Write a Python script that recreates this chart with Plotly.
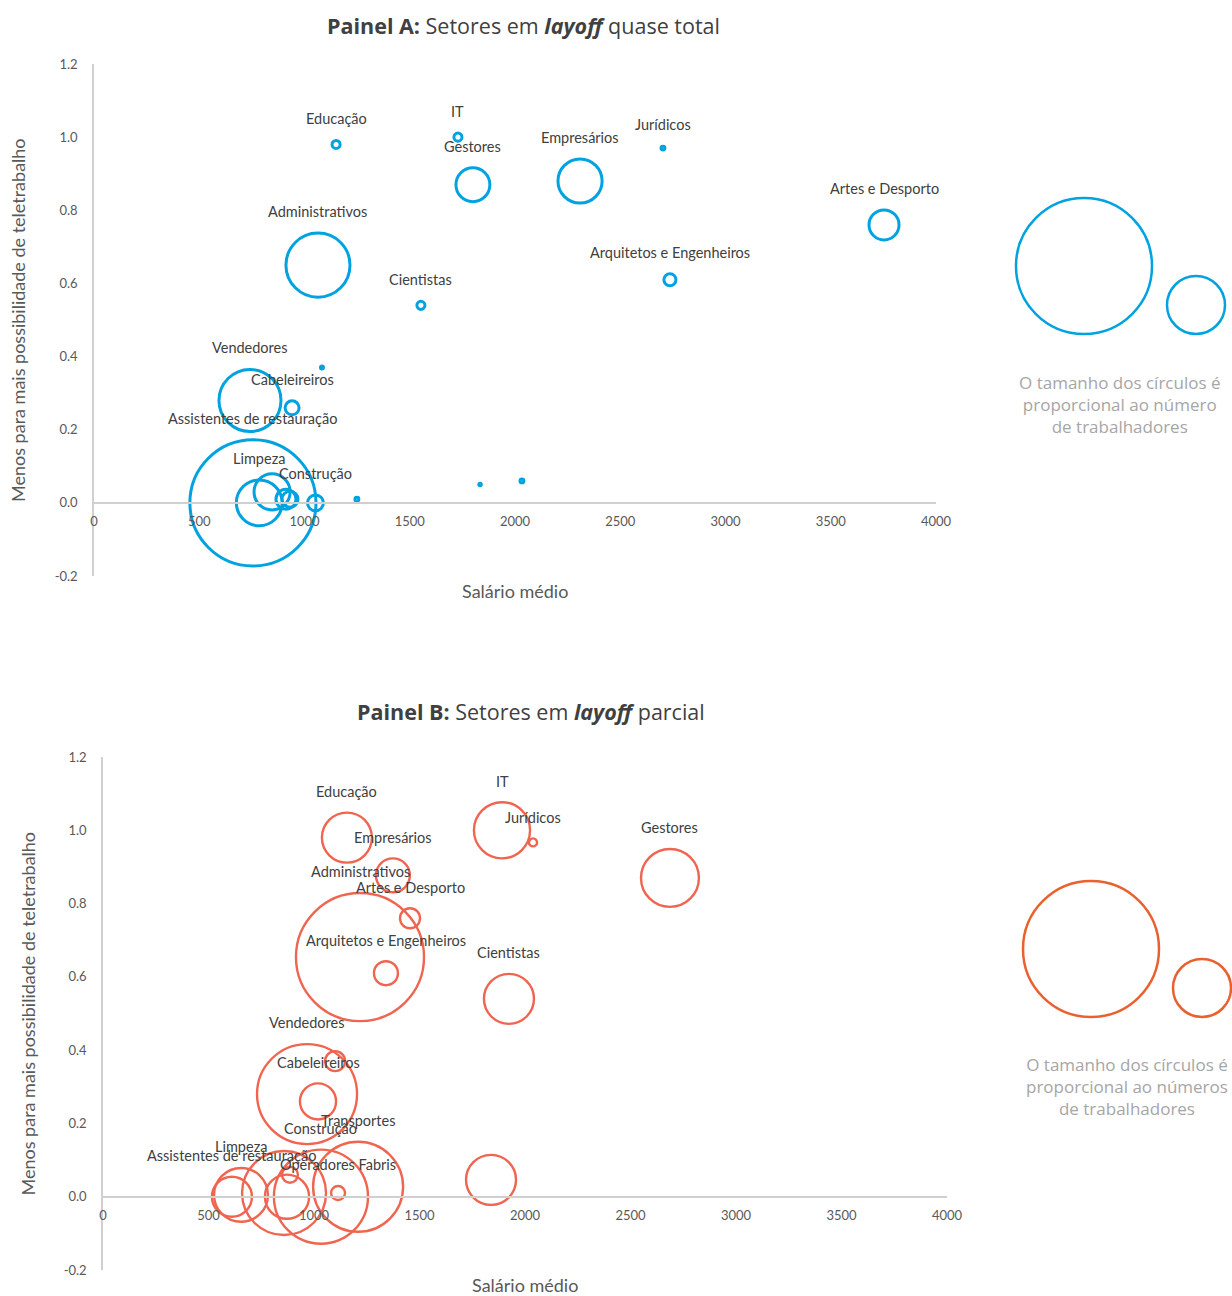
import math
import plotly.graph_objects as go

W, H = 1232, 1296

# ---------------- Data ----------------
# Panel A: sectors in almost total layoff
a_sectors = ["Educação", "IT", "Gestores", "Empresários", "Jurídicos", "Artes e Desporto",
             "Administrativos", "Cientistas", "Arquitetos e Engenheiros", "Vendedores",
             "Cabeleireiros", "Assistentes de restauração", "Limpeza", "Construção",
             "", "", "", "", "", "", ""]
a_salary = [1150, 1729, 1800, 2309, 2703, 3753, 1064, 1553, 2736, 741, 941, 755, 785, 1052,
            846, 912, 931, 1249, 2033, 1834, 1083]
a_telework = [0.98, 1.00, 0.87, 0.88, 0.97, 0.76, 0.65, 0.54, 0.61, 0.28, 0.26, 0.00, 0.00, 0.00,
              0.03, 0.01, 0.01, 0.01, 0.06, 0.05, 0.37]
a_workers = [1.3, 1.3, 23, 39, 0.3, 18, 82, 1.3, 2.9, 77, 3.9, 318, 42, 5.1,
             26, 8, 5.1, 0.3, 0.3, 0.12, 0.18]

# Panel B: sectors in partial layoff
b_sectors = ["Educação", "IT", "Jurídicos", "Empresários", "Gestores", "Administrativos",
             "Artes e Desporto", "Arquitetos e Engenheiros", "Cientistas", "Vendedores",
             "Cabeleireiros", "Transportes", "Construção", "Limpeza",
             "Assistentes de restauração", "Operadores Fabris", "", "", "", "", ""]
b_salary = [1156, 1891, 2038, 1374, 2687, 1218, 1455, 1341, 1924, 967, 1019, 1209, 1033, 654,
            611, 1114, 858, 872, 886, 1100, 1839]
b_telework = [0.98, 1.00, 0.967, 0.877, 0.87, 0.654, 0.76, 0.61, 0.54, 0.28, 0.26, 0.027, 0.0,
              0.005, 0.0, 0.01, 0.01, 0.0, 0.06, 0.37, 0.046]
b_workers = [50, 63, 1.3, 23, 67, 328, 8, 11.5, 50, 200, 26, 162, 177, 58, 32, 3.9,
             141, 39, 5.1, 8, 50]

x_ticks = [0, 500, 1000, 1500, 2000, 2500, 3000, 3500, 4000]
y_ticks = [-0.2, 0.0, 0.2, 0.4, 0.6, 0.8, 1.0, 1.2]
x_range = [0, 4000]
y_range = [-0.2, 1.2]

# ---------------- Styles ----------------
BLUE = "#00A2E0"
RED = "#EF6550"
RED_LEG = "#E8612F"
TXT = "#404040"
TICK = "#595959"
AXC = "#D0D0D0"
FONT = "Lato"
AREA_SCALE = 0.02   # workers per (pixel diameter)^2

def px2fx(px):
    return px / W

def px2fy(py):
    return 1 - py / H

def radius_px(w):
    return math.sqrt(w / AREA_SCALE) / 2

panels = [
    dict(sect=a_sectors, x=a_salary, y=a_telework, w=a_workers, color=BLUE, lw=3.0,
         box=(94, 936, 64, 576), xa="x", ya="y",
         title="<b>Painel A:</b> Setores em <i><b>layoff</b></i> quase total", title_xy=(523, 25),
         xt_y=591, yt_x=18,
         leg=((1084, 266, 68), (1196, 305, 29)), leg_color=BLUE, leg_text_xy=(1120, 404),
         leg_text="O tamanho dos círculos é<br>proporcional ao número<br>de trabalhadores"),
    dict(sect=b_sectors, x=b_salary, y=b_telework, w=b_workers, color=RED, lw=2.4,
         box=(103, 947, 757, 1270), xa="x2", ya="y2",
         title="<b>Painel B:</b> Setores em <i><b>layoff</b></i> parcial", title_xy=(531, 711),
         xt_y=1285, yt_x=28,
         leg=((1091, 949, 68), (1202, 988, 29)), leg_color=RED_LEG, leg_text_xy=(1127, 1086),
         leg_text="O tamanho dos círculos é<br>proporcional ao números<br>de trabalhadores"),
]

fig = go.Figure()
annotations = []
shapes = []
layout_axes = {}

for i, p in enumerate(panels):
    x0, x1, y0, y1 = p["box"]
    xdom = [px2fx(x0), px2fx(x1)]
    ydom = [px2fy(y1), px2fy(y0)]
    # position of y=0 in paper coords
    zero_pos = ydom[0] + (0 - y_range[0]) / (y_range[1] - y_range[0]) * (ydom[1] - ydom[0])
    xname = "xaxis" if i == 0 else "xaxis2"
    yname = "yaxis" if i == 0 else "yaxis2"
    layout_axes[xname] = dict(
        domain=xdom, range=x_range, anchor="free", position=zero_pos, automargin=False,
        tickvals=x_ticks, ticktext=[str(v) for v in x_ticks],
        showgrid=False, zeroline=False, showline=True, linecolor=AXC, linewidth=1.5,
        ticks="", ticklabelstandoff=7,
        tickfont=dict(family=FONT, size=13, color=TICK),
    )
    layout_axes[yname] = dict(
        domain=ydom, range=y_range, anchor=p["xa"], automargin=False,
        tickvals=y_ticks, ticktext=[f"{v:.1f}" for v in y_ticks],
        showgrid=False, zeroline=False, showline=True, linecolor=AXC, linewidth=1.5,
        ticks="", ticklabelstandoff=12,
        tickfont=dict(family=FONT, size=13, color=TICK),
    )

    fig.add_trace(go.Scatter(
        x=p["x"], y=p["y"], mode="markers", xaxis=p["xa"], yaxis=p["ya"],
        text=p["sect"], hovertemplate="%{text}<br>%{x}<br>%{y}<extra></extra>",
        marker=dict(size=p["w"], sizemode="area", sizeref=2 * AREA_SCALE, sizemin=1,
                    opacity=1, color="rgba(0,0,0,0)",
                    line=dict(color=p["color"], width=p["lw"])),
        showlegend=False, cliponaxis=False,
    ))

    # data labels above each bubble
    for name, xv, yv, wv in zip(p["sect"], p["x"], p["y"], p["w"]):
        if not name:
            continue
        annotations.append(dict(
            x=xv, y=yv, xref=p["xa"], yref=p["ya"], text=name, showarrow=False,
            yshift=radius_px(wv) + p["lw"] / 2 + 20, xanchor="center", yanchor="middle",
            font=dict(family=FONT, size=14.5, color=TXT),
        ))

    # panel title
    tx, ty = p["title_xy"]
    annotations.append(dict(
        x=px2fx(tx), y=px2fy(ty), xref="paper", yref="paper", text=p["title"],
        showarrow=False, xanchor="center", yanchor="middle",
        font=dict(family="Open Sans", size=21.5, color=TXT),
    ))
    # x axis title
    annotations.append(dict(
        x=(xdom[0] + xdom[1]) / 2, y=px2fy(p["xt_y"]), xref="paper", yref="paper",
        text="Salário médio", showarrow=False, xanchor="center", yanchor="middle",
        font=dict(family=FONT, size=18, color=TICK),
    ))
    # y axis title
    annotations.append(dict(
        x=px2fx(p["yt_x"]), y=(ydom[0] + ydom[1]) / 2, xref="paper", yref="paper",
        text="Menos para mais possibilidade de teletrabalho", showarrow=False,
        textangle=-90, xanchor="center", yanchor="middle",
        font=dict(family=FONT, size=18, color=TICK),
    ))
    # size legend circles
    for (cx, cy, rr) in p["leg"]:
        shapes.append(dict(
            type="circle", xref="paper", yref="paper", xsizemode="pixel", ysizemode="pixel",
            xanchor=px2fx(cx), yanchor=px2fy(cy), x0=-rr, x1=rr, y0=-rr, y1=rr,
            line=dict(color=p["leg_color"], width=2.5), fillcolor="rgba(0,0,0,0)",
        ))
    lx, ly = p["leg_text_xy"]
    annotations.append(dict(
        x=px2fx(lx), y=px2fy(ly), xref="paper", yref="paper", text=p["leg_text"],
        showarrow=False, xanchor="center", yanchor="middle", align="center",
        font=dict(family="Open Sans", size=17, color="#A6A6A6"),
    ))

fig.update_layout(
    width=W, height=H, margin=dict(l=0, r=0, t=0, b=0, autoexpand=False),
    paper_bgcolor="white", plot_bgcolor="white",
    annotations=annotations, shapes=shapes, showlegend=False,
    **layout_axes,
)

fig.write_html(
    "out.html",
    config={"displayModeBar": False},
    post_script="document.body.style.margin='0';document.body.style.overflow='hidden';",
)
